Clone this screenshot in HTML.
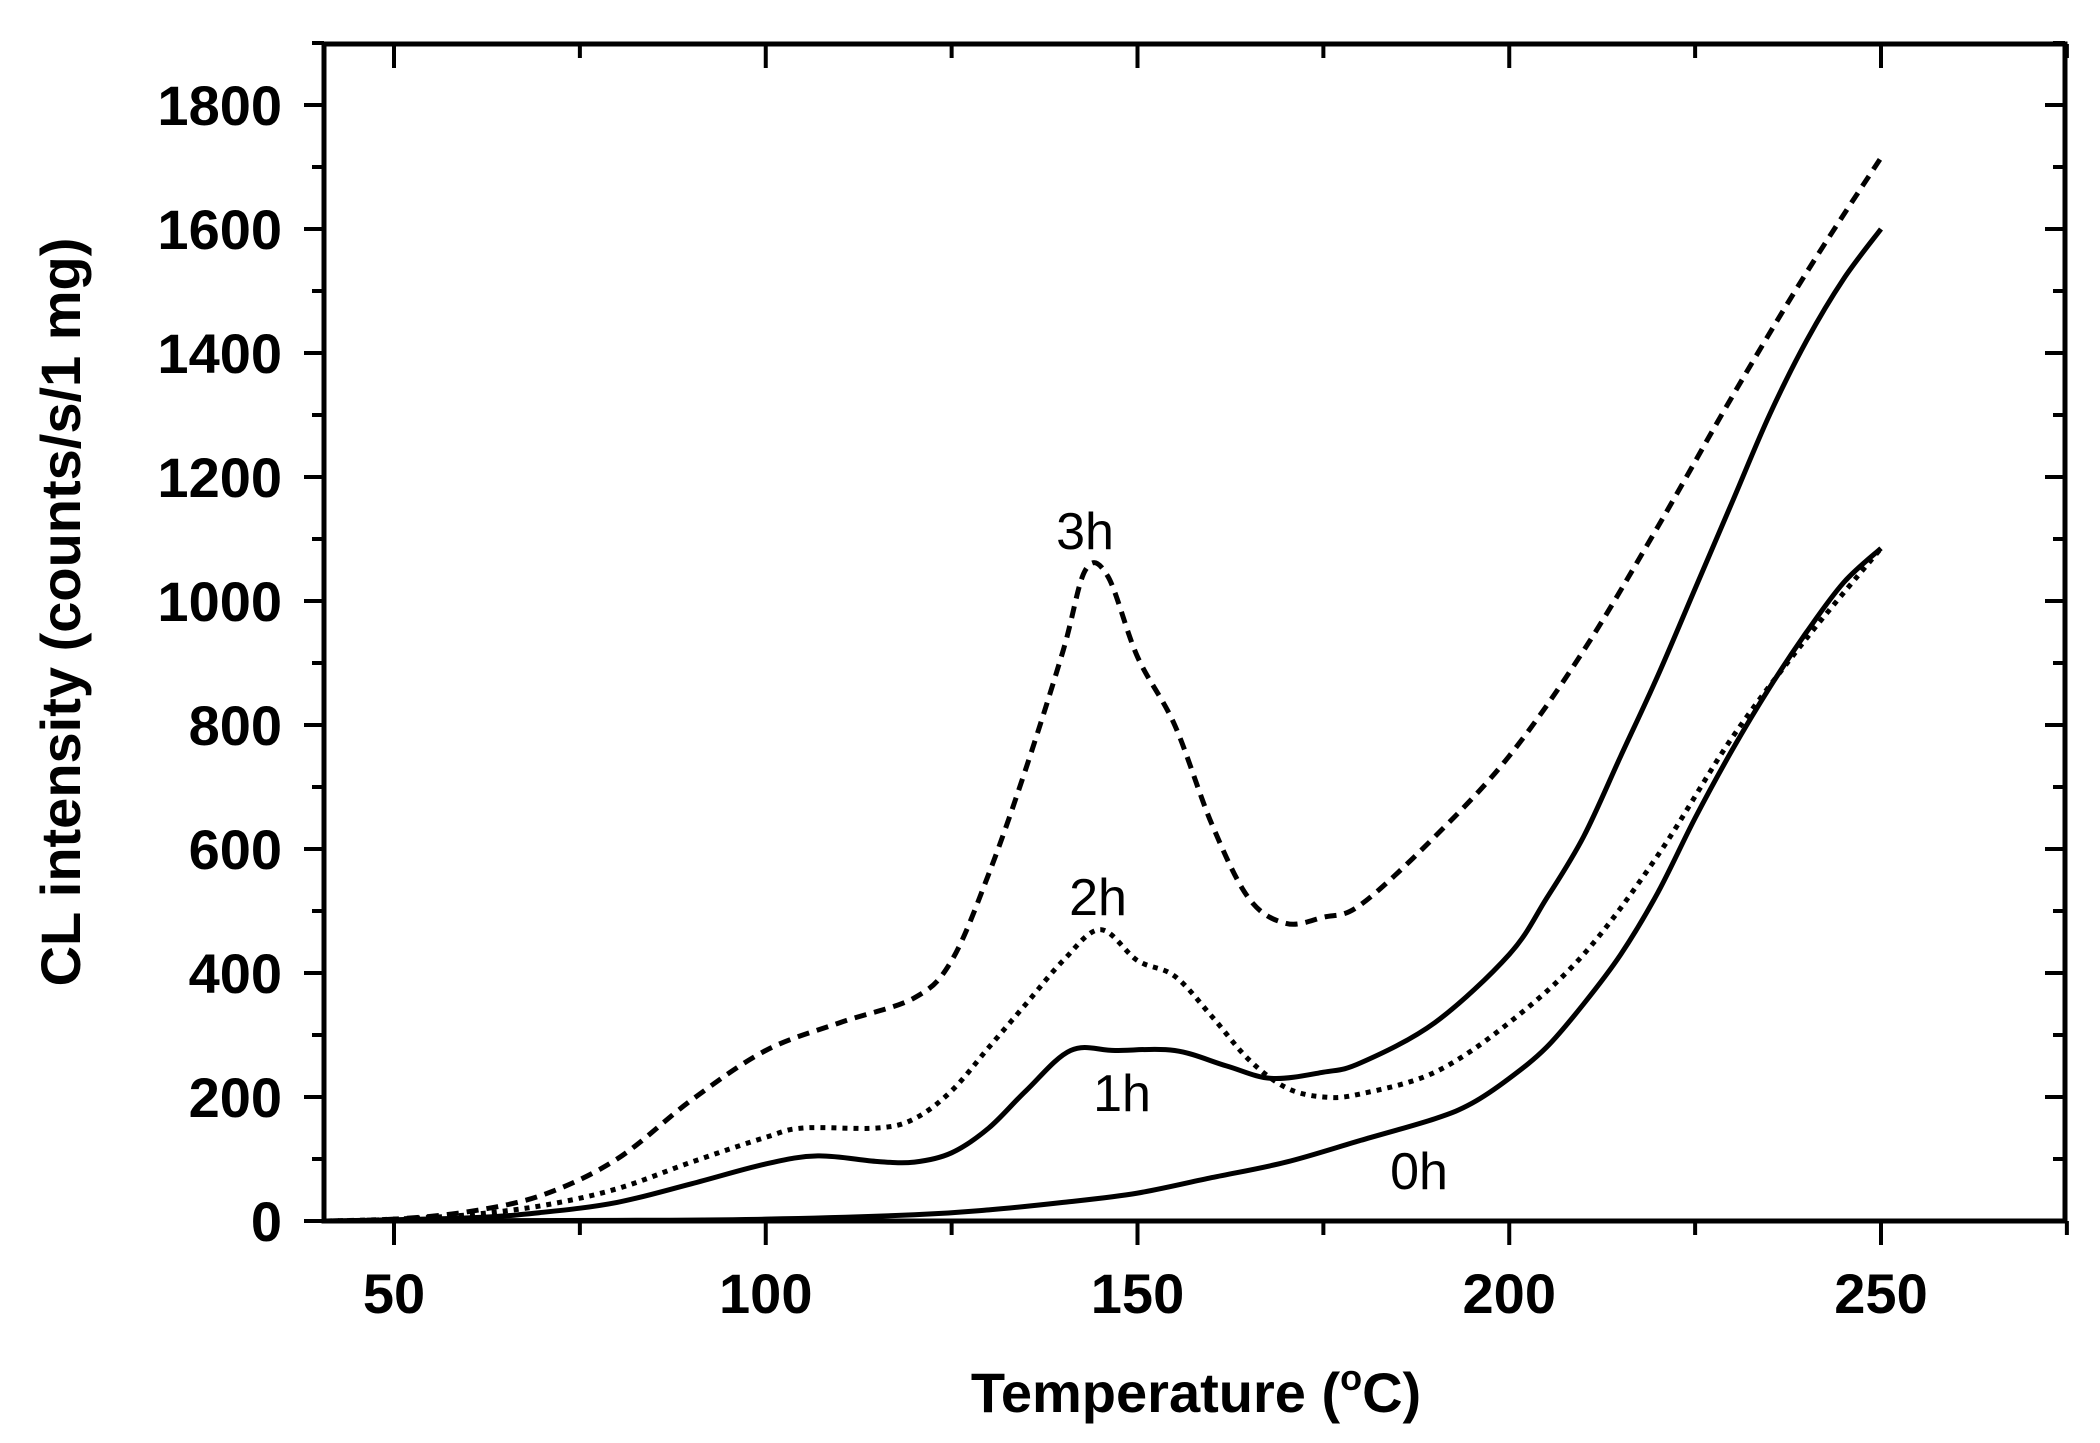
<!DOCTYPE html>
<html><head><meta charset="utf-8"><style>
html,body{margin:0;padding:0;background:#fff;width:2100px;height:1443px;overflow:hidden}
svg{display:block}
.tk{font-family:"Liberation Sans",sans-serif;font-weight:bold;font-size:56px;fill:#000}
.lb{font-family:"Liberation Sans",sans-serif;font-size:52px;fill:#000}
</style></head><body>
<svg id="s" width="2100" height="1443" viewBox="0 0 2100 1443" xmlns="http://www.w3.org/2000/svg">
<g id="axes" stroke="#000" stroke-width="5" fill="none">
<rect x="324" y="44" width="1741" height="1177"/>
</g>
<g id="ticks" stroke="#000" stroke-width="4"></g>
<g id="curves" fill="none" stroke="#000" stroke-width="5" stroke-linejoin="round"></g>
<g id="labels"></g>
<text class="lb" x="1085" y="549" text-anchor="middle">3h</text>
<text class="lb" x="1098" y="915" text-anchor="middle">2h</text>
<text class="lb" x="1122" y="1111" text-anchor="middle">1h</text>
<text class="lb" x="1419" y="1189" text-anchor="middle">0h</text>
<text class="tk" font-size="56" transform="translate(1196,1412)" text-anchor="middle">Temperature (<tspan font-size="36" dy="-22">o</tspan><tspan dy="22">C)</tspan></text>
<text class="tk" font-size="56" transform="translate(80,612) rotate(-90)" text-anchor="middle">CL intensity (counts/s/1 mg)</text>
</svg>
<script>
const X=d=>394+(d-50)*7.435, Y=v=>1221-v*0.62;
const NS="http://www.w3.org/2000/svg";
function el(p,tag,a,t){const e=document.createElementNS(NS,tag);for(const k in a)e.setAttribute(k,a[k]);if(t!==undefined)e.textContent=t;document.getElementById(p).appendChild(e);return e;}
for(let v=0;v<=1900;v+=100){const y=Y(v),maj=v%200==0;
 el('ticks','line',{x1:324-(maj?20:12),y1:y,x2:324,y2:y});
 el('ticks','line',{x1:2065,y1:y,x2:2065-(maj?20:12),y2:y});
 if(maj){el('labels','text',{class:'tk','text-anchor':'end',transform:`translate(282,${y+20})`},v);}
}
for(let d=50;d<=275;d+=25){const x=X(d),maj=d%50==0;
 el('ticks','line',{x1:x,y1:1221,x2:x,y2:1221+(maj?24:14)});
 el('ticks','line',{x1:x,y1:44,x2:x,y2:44+(maj?24:14)});
 if(maj)el('labels','text',{class:'tk','text-anchor':'middle',transform:`translate(${x},1313)`},d);
}
function curve(pts,dash){
 const P=pts.map(p=>[X(p[0]),Y(p[1])]);
 let d='M'+P[0][0]+','+P[0][1];
 for(let i=0;i<P.length-1;i++){const p0=P[Math.max(i-1,0)],p1=P[i],p2=P[i+1],p3=P[Math.min(i+2,P.length-1)];
  const c1=[p1[0]+(p2[0]-p0[0])/6,p1[1]+(p2[1]-p0[1])/6],c2=[p2[0]-(p3[0]-p1[0])/6,p2[1]-(p3[1]-p1[1])/6];
  d+=`C${c1[0]},${c1[1]} ${c2[0]},${c2[1]} ${p2[0]},${p2[1]}`;}
 const a={d};if(dash)a['stroke-dasharray']=dash;el('curves','path',a);
}
curve([[41,0],[80,1],[100,3],[120,10],[130,18],[140,30],[150,45],[160,70],[170,95],[180,130],[190,165],[195,190],[200,230],[205,280],[210,350],[215,430],[220,530],[225,650],[230,760],[235,860],[240,950],[245,1030],[250,1085]]);
curve([[41,0],[60,5],[70,14],[80,30],[90,60],[100,92],[107,105],[115,96],[120,95],[125,110],[130,150],[135,210],[141,275],[147,275],[155,275],[162,250],[168,230],[175,240],[180,255],[190,320],[200,430],[205,520],[210,620],[215,750],[220,880],[225,1020],[230,1160],[235,1300],[240,1420],[245,1520],[250,1600]]);
curve([[41,0],[50,3],[60,10],[70,25],[80,52],[90,95],[100,135],[105,150],[115,150],[120,165],[125,210],[130,280],[135,350],[140,420],[145,470],[150,420],[155,395],[160,330],[165,260],[170,215],[175,200],[180,205],[190,240],[200,320],[210,430],[220,590],[230,780],[240,940],[250,1085]],"5 6");
curve([[41,0],[50,3],[60,15],[70,42],[80,100],[90,195],[100,275],[110,320],[120,360],[125,420],[130,560],[135,730],[140,920],[143,1050],[146,1040],[150,910],[155,800],[160,640],[165,520],[170,480],[175,490],[180,510],[190,620],[200,750],[210,920],[220,1120],[230,1330],[240,1530],[250,1715]],"12 8");
</script>
</body></html>
